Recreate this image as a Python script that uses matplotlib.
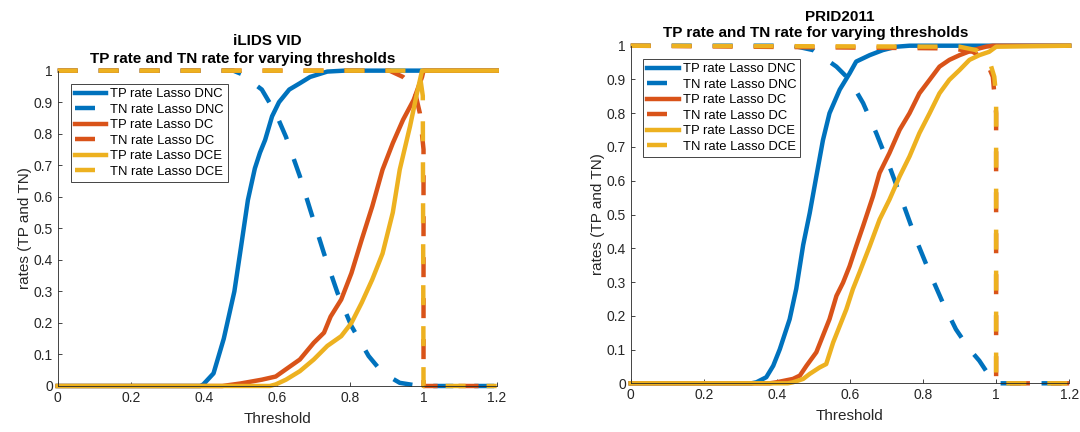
import matplotlib.pyplot as plt

plt.rcParams['font.family'] = ['Liberation Sans', 'DejaVu Sans']
plt.rcParams['lines.scale_dashes'] = False

blue = "#0072BD"
orange = "#D95319"
yellow = "#EDB120"
axcol = "#262626"

# ---- iLIDS VID ----
ilids_tp_dnc_x = [0, 0.39, 0.398, 0.426, 0.454, 0.483, 0.501, 0.52, 0.539, 0.553, 0.567, 0.586, 0.605, 0.633, 0.662, 0.69, 0.737, 0.784, 1.0, 1.2]
ilids_tp_dnc_y = [0, 0, 0.005, 0.04, 0.15, 0.30, 0.44, 0.59, 0.69, 0.74, 0.78, 0.855, 0.90, 0.94, 0.96, 0.98, 0.997, 1.0, 1.0, 1.0]
ilids_tn_dnc_x = [0, 0.48, 0.501, 0.558, 0.596, 0.624, 0.662, 0.69, 0.728, 0.765, 0.803, 0.85, 0.888, 0.935, 0.99, 1.0, 1.2]
ilids_tn_dnc_y = [1, 1, 0.99, 0.94, 0.865, 0.79, 0.665, 0.56, 0.42, 0.295, 0.19, 0.095, 0.042, 0.01, 0.0, 0.0, 0.0]
ilids_tp_dc_x = [0, 0.45, 0.50, 0.558, 0.596, 0.624, 0.662, 0.70, 0.728, 0.746, 0.775, 0.803, 0.831, 0.86, 0.888, 0.916, 0.944, 0.973, 0.996, 1.0, 1.2]
ilids_tp_dc_y = [0, 0, 0.008, 0.02, 0.03, 0.053, 0.084, 0.137, 0.169, 0.22, 0.274, 0.358, 0.464, 0.57, 0.686, 0.77, 0.844, 0.907, 0.98, 1.0, 1.0]
ilids_tn_dc_x = [0, 0.907, 0.944, 0.973, 0.99, 1.0, 1.0, 1.2]
ilids_tn_dc_y = [1, 1.0, 0.98, 0.95, 0.865, 0.75, 0.0, 0.0]
ilids_tp_dce_x = [0, 0.58, 0.596, 0.624, 0.662, 0.70, 0.737, 0.775, 0.803, 0.831, 0.86, 0.888, 0.916, 0.935, 0.963, 0.982, 0.996, 1.0, 1.2]
ilids_tp_dce_y = [0, 0, 0.005, 0.02, 0.047, 0.084, 0.127, 0.158, 0.2, 0.264, 0.338, 0.42, 0.55, 0.686, 0.823, 0.928, 1.0, 1.0, 1.0]
ilids_tn_dce_x = [0, 0.97, 0.99, 0.998, 1.0, 1.2]
ilids_tn_dce_y = [1, 1.0, 0.985, 0.92, 0.0, 0.0]

# ---- PRID2011 ----
prid_tp_dnc_x = [0, 0.33, 0.344, 0.371, 0.39, 0.408, 0.435, 0.453, 0.472, 0.49, 0.508, 0.526, 0.544, 0.572, 0.599, 0.617, 0.654, 0.69, 0.727, 0.763, 1.0, 1.2]
prid_tp_dnc_y = [0, 0, 0.003, 0.018, 0.052, 0.101, 0.19, 0.28, 0.41, 0.505, 0.613, 0.72, 0.80, 0.87, 0.918, 0.953, 0.972, 0.987, 0.997, 1.0, 1.0, 1.0]
prid_tn_dnc_x = [0, 0.444, 0.499, 0.563, 0.599, 0.636, 0.672, 0.708, 0.745, 0.781, 0.818, 0.854, 0.89, 0.927, 0.954, 0.981, 0.995, 1.0, 1.2]
prid_tn_dnc_y = [1, 1.0, 0.987, 0.938, 0.899, 0.83, 0.741, 0.643, 0.534, 0.426, 0.328, 0.239, 0.16, 0.101, 0.067, 0.023, 0.008, 0.0, 0.0]
prid_tp_dc_x = [0, 0.38, 0.399, 0.444, 0.463, 0.481, 0.508, 0.526, 0.544, 0.563, 0.581, 0.599, 0.617, 0.636, 0.663, 0.681, 0.708, 0.736, 0.763, 0.79, 0.818, 0.845, 0.872, 0.9, 0.936, 0.972, 0.991, 1.0, 1.2]
prid_tp_dc_y = [0, 0, 0.003, 0.013, 0.023, 0.052, 0.092, 0.141, 0.19, 0.259, 0.298, 0.347, 0.406, 0.466, 0.554, 0.623, 0.682, 0.751, 0.80, 0.859, 0.899, 0.938, 0.958, 0.972, 0.987, 0.997, 1.0, 1.0, 1.0]
prid_tn_dc_x = [0, 0.881, 0.936, 0.972, 0.991, 0.995, 1.0, 1.0, 1.2]
prid_tn_dc_y = [1, 0.992, 0.982, 0.958, 0.908, 0.859, 0.8, 0.0, 0.0]
prid_tp_dce_x = [0, 0.43, 0.444, 0.472, 0.49, 0.517, 0.535, 0.554, 0.572, 0.59, 0.608, 0.626, 0.654, 0.681, 0.708, 0.736, 0.763, 0.79, 0.818, 0.845, 0.872, 0.90, 0.927, 0.954, 0.981, 1.0, 1.2]
prid_tp_dce_y = [0, 0, 0.003, 0.013, 0.028, 0.047, 0.057, 0.121, 0.17, 0.219, 0.279, 0.328, 0.406, 0.485, 0.544, 0.613, 0.672, 0.741, 0.80, 0.859, 0.899, 0.928, 0.958, 0.972, 0.982, 0.997, 1.0]
prid_tn_dce_x = [0, 0.90, 0.945, 0.981, 0.995, 1.0, 1.0, 1.2]
prid_tn_dce_y = [1, 0.997, 0.987, 0.958, 0.908, 0.85, 0.0, 0.0]

labels = ["TP rate Lasso DNC", "TN rate Lasso DNC", "TP rate Lasso DC",
          "TN rate Lasso DC", "TP rate Lasso DCE", "TN rate Lasso DCE"]
colors = [blue, blue, orange, orange, yellow, yellow]

ilids = [(ilids_tp_dnc_x, ilids_tp_dnc_y), (ilids_tn_dnc_x, ilids_tn_dnc_y),
         (ilids_tp_dc_x, ilids_tp_dc_y), (ilids_tn_dc_x, ilids_tn_dc_y),
         (ilids_tp_dce_x, ilids_tp_dce_y), (ilids_tn_dce_x, ilids_tn_dce_y)]
prid = [(prid_tp_dnc_x, prid_tp_dnc_y), (prid_tn_dnc_x, prid_tn_dnc_y),
        (prid_tp_dc_x, prid_tp_dc_y), (prid_tn_dc_x, prid_tn_dc_y),
        (prid_tp_dce_x, prid_tp_dce_y), (prid_tn_dce_x, prid_tn_dce_y)]

fig = plt.figure(figsize=(10.8, 4.32), dpi=100)
ax1 = fig.add_axes([0.0534, 0.1065, 0.4065, 0.730])
ax2 = fig.add_axes([0.584, 0.1127, 0.406, 0.7815])


def draw(ax, series, leg_xy):
    for i, (xs, ys) in enumerate(series):
        if i % 2 == 0:
            ax.plot(xs, ys, color=colors[i], lw=3.2, label=labels[i], clip_on=False)
        else:
            ax.plot(xs, ys, color=colors[i], lw=3.2, label=labels[i], clip_on=False,
                    dashes=(14.4, 15.1))
    ax.set_xlim(0, 1.2)
    ax.set_ylim(0, 1)
    ax.set_xticks([0, 0.2, 0.4, 0.6, 0.8, 1, 1.2])
    ax.set_xticklabels(["0", "0.2", "0.4", "0.6", "0.8", "1", "1.2"])
    ax.set_yticks([i / 10 for i in range(11)])
    ax.set_yticklabels(["0"] + ["%.1f" % (i / 10) for i in range(1, 10)] + ["1"])
    ax.spines['top'].set_visible(False)
    ax.spines['right'].set_visible(False)
    for s in ['left', 'bottom']:
        ax.spines[s].set_color(axcol)
        ax.spines[s].set_linewidth(0.6)
    ax.tick_params(direction='in', length=3, width=0.6, colors=axcol,
                   labelsize=10, labelcolor=axcol)
    ax.set_xlabel("Threshold", fontsize=11, color=axcol, labelpad=5)
    ax.set_ylabel("rates (TP and TN)", fontsize=11, color=axcol, labelpad=1)
    leg = ax.legend(loc='upper left', bbox_to_anchor=leg_xy, borderaxespad=0,
                    fontsize=9.4, handlelength=2.4, handletextpad=0.32,
                    labelspacing=0.26, borderpad=0.32, fancybox=False,
                    framealpha=1, edgecolor=axcol)
    leg.get_frame().set_linewidth(0.6)


draw(ax1, ilids, (0.0296, 0.958))
draw(ax2, prid, (0.028, 0.9606))

fig.text(0.2477, 0.8958, "iLIDS VID", ha='center', va='baseline',
         fontsize=11, fontweight='bold')
fig.text(0.225, 0.854, "TP rate and TN rate for varying thresholds", ha='center',
         va='baseline', fontsize=11, fontweight='bold')
fig.text(0.7778, 0.952, "PRID2011", ha='center', va='baseline',
         fontsize=11, fontweight='bold')
fig.text(0.7556, 0.9144, "TP rate and TN rate for varying thresholds", ha='center',
         va='baseline', fontsize=11, fontweight='bold')

fig.savefig("out.png", dpi=100)
